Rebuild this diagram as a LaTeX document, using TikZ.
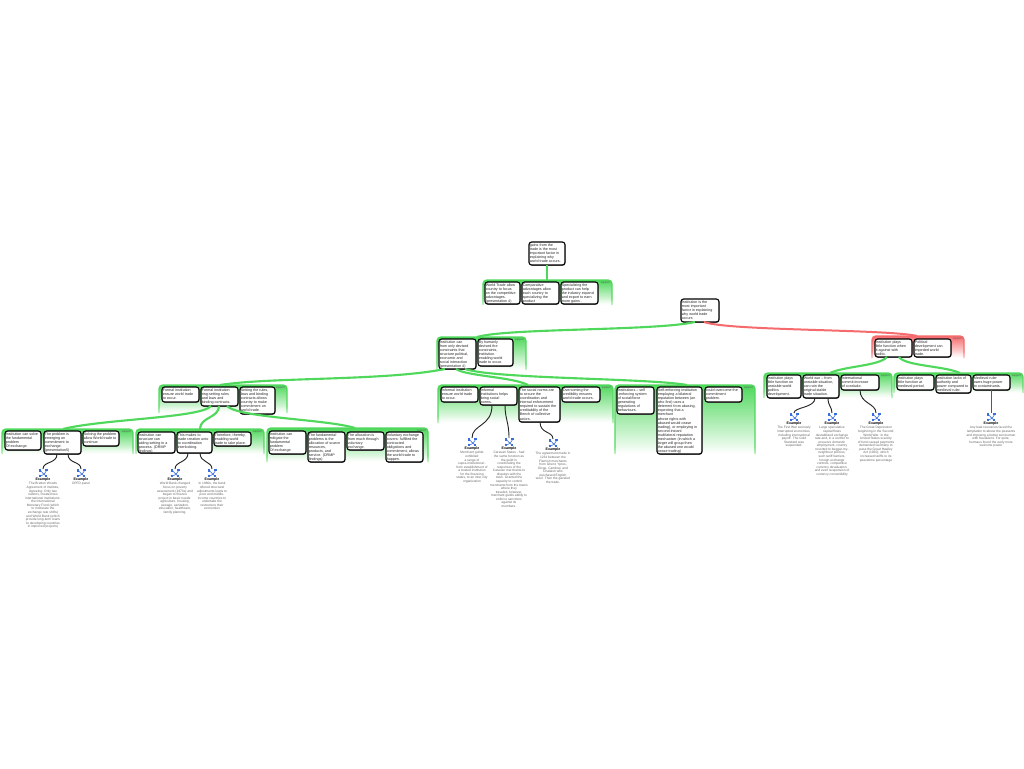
\documentclass[tikz,border=0pt]{standalone}
\usepackage{fontspec}
\setmainfont{Liberation Sans}
\usetikzlibrary{shadows,fadings}
\definecolor{gg}{HTML}{4FD85C}
\definecolor{rr}{HTML}{F56A6C}
\definecolor{exg}{HTML}{666666}
\definecolor{icb}{HTML}{3A6EDC}
\tikzset{
 x=0.75pt,y=-0.75pt,
 boxn/.style={draw=black,fill=white,line width=0.85pt,rounded corners=2pt,inner sep=0.6pt,outer sep=0pt,
   font=\fontsize{2.75}{3.05}\selectfont,text=black!85,general shadow={fill=black!55,shadow xshift=0.35pt,shadow yshift=-0.6pt}},
 grpn/.style={inner sep=0pt,outer sep=0pt,rounded corners=3pt,bottom color=white},
 tagn/.style={font=\fontsize{2}{2.2}\selectfont,text=black!65,inner sep=0pt},
 gl/.style={draw=gg,line width=1.6pt},
 rl/.style={draw=rr,line width=1.5pt},
 bl/.style={draw=black!85,line width=0.7pt},
 icn/.style={inner sep=0pt,outer sep=0pt,minimum width=7pt,minimum height=6pt},
 exh/.style={font=\bfseries\fontsize{2.7}{3}\selectfont,text=black,inner sep=0pt},
 ext/.style={font=\fontsize{2.45}{2.68}\selectfont,text=exg,inner sep=0pt,align=center,anchor=north},
}
\newcommand{\grp}[6]{%
 \pgfmathsetlengthmacro\gwid{(#4-#2)*0.75}%
 \pgfmathsetlengthmacro\ghgt{(#5-#3)*0.75}%
 \node[grpn,top color=#6,minimum width=\gwid,minimum height=\ghgt,anchor=north west] (#1) at (#2,#3) {};
 \draw[draw=#6,line width=1.1pt,rounded corners=3pt] (#1.south west) -- (#1.north west) -- (#1.north east) -- (#1.south east);
 \fill[white,path fading=north,opacity=.6] ([shift={(-2,-7)}]#1.south west) rectangle ([shift={(2,1)}]#1.south east);
 \node[tagn,anchor=north east] (#1t) at ([shift={(-2,1.5)}]#1.north east) {support};
}
\newcommand{\bx}[6]{%
 \pgfmathsetlengthmacro\bwid{(#4-#2)*0.75-1.2}%
 \pgfmathsetlengthmacro\bhgt{(#5-#3)*0.75-1.2}%
 \node[boxn,anchor=north west] (#1) at (#2,#3) {\parbox[c][\bhgt][t]{\bwid}{\vspace*{0.7pt}\begin{tabular}[t]{@{}l@{}}#6\end{tabular}}};
}
\newcommand{\icon}[3]{%
 \node[icn] (#1) at (#2,#3) {};
 \begin{scope}[shift={(#1.center)}]
  \draw[icb,line width=0.45pt] (-3,-3) .. controls (-1,-1) and (0,1) .. (3,3);
  \draw[icb,line width=0.45pt] (-4,2) .. controls (-2,4) and (1,2) .. (4,-3);
  \fill[icb] (-4.5,-4) rectangle (-2,-1.5);
  \fill[icb] (2,-4.5) rectangle (4.5,-2);
  \fill[icb] (-4.5,1.5) rectangle (-2,4);
  \fill[icb] (1.5,1.5) rectangle (4,4);
 \end{scope}
}
\newcommand{\ex}[4]{% name, x, icon y, text
 \icon{#1}{#2}{#3}
 \node[exh] (#1h) at (#2,#3+6.7) {Example};
 \node[ext] (#1x) at (#2,#3+9.3) {#4};
}
\begin{document}
\begin{tikzpicture}
\useasboundingbox (0,0) rectangle (1024,768);
% groups
\grp{topg}{483}{280}{612}{305}{gg}
\grp{gone}{437}{337}{526}{370}{gg}
\grp{redg}{872}{336}{964}{358}{rr}
\grp{ga}{159}{385}{287}{413}{gg}
\grp{gb}{438}{385}{613}{423}{gg}
\grp{gc}{615}{385}{755}{454}{gg}
\grp{la}{2}{429}{133}{454}{gg}
\grp{lb}{136}{429}{264}{454}{gg}
\grp{lc}{267}{428}{428}{462}{gg}
\grp{ra}{764}{373}{892}{398}{gg}
\grp{rb}{894}{373}{1023}{393}{gg}
% boxes
\bx{gains}{529}{242}{565}{265}{gains from the\\trade is the most\\important factor in\\explaining why\\world trade occurs.}
\bx{t1}{485}{282}{520}{304}{World Trade allow\\country to focus\\on the competitive\\advantages.\\(presentation 4)}
\bx{t2}{522}{282}{559}{304}{Comparative\\advantages allow\\each country to\\specializing the\\product}
\bx{t3}{561}{282}{598}{304}{Specializing the\\product can help\\the industry expand\\and export to earn\\more gains .}
\bx{main}{681}{299}{719}{322}{Institution is the\\most important\\factor in explaining\\why world trade\\occurs}
\bx{ins}{439}{339}{476}{369}{Institution can\\from only devised\\constraints that\\structure political,\\economic and\\social interaction\\(presentation 4)}
\bx{hum}{478}{339}{513}{366}{By humanly\\devised the\\constraints,\\institution\\enabling world\\trade to occur.}
\bx{rb1}{875}{339}{912}{357}{Institution plays\\little function when\\it against with\\politic.}
\bx{rb2}{914}{339}{951}{357}{Political\\development can\\impeded world\\trade.}
\bx{a1}{162}{387}{199}{402}{Formal institution\\ensure world trade\\to occur.}
\bx{fr}{201}{387}{238}{406}{Formal institution\\ring-setting rules\\and laws and\\binding contracts.}
\bx{a3}{240}{387}{275}{414}{Setting the rules,\\laws and binding\\contracts allows\\country to make\\commitment on\\world trade.}
\bx{b1}{441}{387}{478}{402}{Informal institution\\ensure world trade\\to occur.}
\bx{b2}{480}{387}{517}{405}{Informal\\institutions helps\\bring social\\norms.}
\bx{b3}{519}{387}{560}{422}{The social norms are\\to secure the\\coordination and\\internal enforcement\\required to sustain the\\creditability of the\\Bench of collective\\actors.}
\bx{b4}{562}{387}{600}{402}{Overcoming the\\credibility ensures\\world trade occurs.}
\bx{c1}{617}{387}{654}{414}{Institutions -- self\\-enforcing system\\of social/force\\generating\\regulations of\\behaviours.}
\bx{c2}{657}{387}{702}{454}{Self-enforcing institution\\employing a bilateral\\reputation between (an\\who first) uses a\\deterrent from abusing,\\expecting that a\\merchant\\whose rights with\\abused would cease\\trading), or employing in\\second-instant\\multilateral reputation\\mechanism (in which a\\larger will group then\\the abused one would\\cease trading)}
\bx{c3}{705}{387}{742}{402}{could overcome the\\commitment\\problem.}
\bx{l1}{5}{431}{41}{450}{Institution can solve\\the fundamental\\problem\\Of exchange.}
\bx{l2}{44}{431}{81}{454}{The problem is\\emerging on\\commitment to\\exchange.\\(presentation5)}
\bx{l3}{83}{431}{119}{446}{Solving the problem\\allow World trade to\\continue.}
\bx{m1}{138}{432}{175}{453}{Institution can\\structure can\\aiding setting in a\\process. (DRMP\\findings)}
\bx{m2}{177}{432}{212}{453}{This makes to\\trade creation unto\\to coordination\\interlocking.}
\bx{m3}{214}{432}{251}{446}{Therefore, thereby,\\enabling world\\trade to take place.}
\bx{n1}{269}{431}{306}{454}{Institution can\\mitigate the\\fundamental\\problem\\Of exchange.}
\bx{n2}{308}{432}{345}{462}{The fundamental\\problems is the\\allocation of scarce\\resources,\\products, and\\service. (DRMP\\findings)}
\bx{n3}{347}{432}{384}{450}{The allocation is\\from much through\\voluntary\\exchange.}
\bx{n4}{386}{432}{423}{462}{Voluntary exchange\\covers: fulfilled the\\contracted\\obligations and\\commitment, allows\\the world trade to\\happen.}
\bx{r1}{767}{375}{801}{398}{Institution plays\\little function on\\unstable world\\politics\\development.}
\bx{r2}{803}{375}{839}{398}{World war -- from\\unstable situation,\\can ruin the\\original stable\\trade situation.}
\bx{r3}{841}{375}{879}{390}{International\\commit increase\\of conclude.}
\bx{s1}{897}{375}{934}{390}{Institution plays\\little function at\\medieval period.}
\bx{s2}{936}{375}{971}{393}{Institution lacks of\\authority and\\power compared to\\medieval ruler.}
\bx{s3}{973}{375}{1010}{390}{Medieval ruler\\owes huge power\\to contaminants.}
% examples
\ex{e1}{43}{473}{The Bretton Woods\\Agreement of institute,\\Agreeing: Only two\\nations, created two\\international institutions:\\the International\\Monetary Fund (which\\to moderate the\\exchange rate shifts)\\and World Bank (which\\provide long-term loans\\to developing countries\\in improved projects)}
\ex{e2}{81}{473}{OPFD panel}
\ex{e3}{175}{473}{World Bank changed\\focus on poverty\\assessment (1970s) and\\began to finance\\project in basic needs:\\agriculture, housing,\\sewage, sanitation,\\education, healthcare,\\family planning.}
\ex{e4}{212}{473}{In 1980s, the bank\\offered structural\\adjustments loans to\\poor and middle-\\income countries to\\undertake the\\restructure their\\economies}
\ex{e5}{472}{442}{Merchant guilds\\exhibited\\a range of\\supra-institutional -\\from establishment of\\a trusted institution\\for the financing\\states, to an inter-city\\organization}
\ex{e6}{509}{442}{Caravan States - had\\the same function as\\the guild in\\coordinating the\\responses of the\\Caravan merchants to\\disputes with the\\town. Granted the\\capacity to control\\merchants from the towns\\where they\\traveled, however,\\merchant guilds ability to\\enforce sanctions\\against its\\members.}
\ex{e7}{553}{443}{The agreement made in\\1234 between the\\Flemish merchants\\from Ghent, Ypres,\\Dixge, Cambrai, and\\Chalaish who\\purchased English\\wool. Then the gaveled\\the trade.}
\ex{e8}{794}{417}{The First War seriously\\interrupted economies,\\including international\\payoff. The Gold\\Standard was\\suspended.}
\ex{e9}{832}{417}{Large speculative\\capital flows\\destabilized exchange\\rate and, in a conflict to\\preserve domestic\\employment, country\\resorted to beggar-my-\\neighbour policies,\\such tariff barriers,\\foreign exchange\\controls, competitive\\currency devaluation,\\and even suspension of\\currency convertibility}
\ex{e10}{876}{417}{The Great Depression\\beginning in the Second\\World War. In the\\United States scarcity\\of fund caused payments\\demanded Germany to\\pass the Great Hawley\\Act (1930), which\\increased tariffs to its\\peacetime percentage}
\ex{e11}{991}{417}{Any lead resources faced the\\temptation to abuse the peasants\\and imposing a better serviceman\\with fraudulent. For quite,\\hermaus found the early more\\welcome power}
% green and red connectors
\draw[gl] (gains.south) -- ([shift={(64,0)}]topg.north west);
\draw[gl] ([shift={(14,0)}]main.south west) .. controls +(-40,9) and +(30,-9) .. ([shift={(40,0)}]gone.north west);
\draw[rl] ([shift={(23,0)}]main.south west) .. controls +(25,9) and +(-30,-7) .. ([shift={(45,0)}]redg.north west);
\draw[gl] ([shift={(6,0)}]ins.south west) .. controls +(-60,12) and +(50,-8) .. ([shift={(61,0)}]ga.north west);
\draw[gl] ([shift={(17,0)}]ins.south west) .. controls +(10,7) and +(-15,-8) .. ([shift={(90,0)}]gb.north west);
\draw[gl] ([shift={(26,0)}]ins.south west) .. controls +(30,10) and +(-40,-7) .. ([shift={(72,0)}]gc.north west);
\draw[gl] ([shift={(10,0)}]fr.south west) .. controls +(-10,12) and +(40,-10) .. ([shift={(61,0)}]la.north west);
\draw[gl] ([shift={(18,0)}]fr.south west) .. controls +(0,12) and +(0,-12) .. ([shift={(64,0)}]lb.north west);
\draw[gl] ([shift={(26,0)}]fr.south west) .. controls +(12,12) and +(-30,-9) .. ([shift={(88,0)}]lc.north west);
\draw[gl] ([shift={(12,0)}]rb1.south west) .. controls +(-8,9) and +(15,-7) .. ([shift={(66,0)}]ra.north west);
\draw[gl] ([shift={(24,0)}]rb1.south west) .. controls +(6,9) and +(-15,-7) .. ([shift={(66,0)}]rb.north west);
% black connectors
\draw[bl] ([shift={(13,0)}]l2.south west) .. controls +(0,10) and +(0,-8) .. (e1.north);
\draw[bl] ([shift={(24,0)}]l2.south west) .. controls +(0,10) and +(0,-8) .. (e2.north);
\draw[bl] ([shift={(11,0)}]m2.south west) .. controls +(0,10) and +(0,-8) .. (e3.north);
\draw[bl] ([shift={(23,0)}]m2.south west) .. controls +(0,10) and +(0,-8) .. (e4.north);
\draw[bl] ([shift={(12,0)}]b2.south west) .. controls +(0,22) and +(0,-14) .. (e5.north);
\draw[bl] ([shift={(25,0)}]b2.south west) .. controls +(0,14) and +(0,-16) .. (e6.north);
\draw[bl] ([shift={(21,0)}]b3.south west) .. controls +(0,12) and +(0,-8) .. (e7.north);
\draw[bl] ([shift={(12,0)}]r2.south west) .. controls +(0,10) and +(0,-6) .. (e8.north);
\draw[bl] ([shift={(25,0)}]r2.south west) .. controls +(0,8) and +(0,-6) .. (e9.north);
\draw[bl] ([shift={(19,0)}]r3.south west) .. controls +(0,14) and +(0,-10) .. (e10.north);
\draw[draw=black!65,line width=0.7pt] ([shift={(18,0)}]s3.south west) -- (e11.north);
\end{tikzpicture}
\end{document}
